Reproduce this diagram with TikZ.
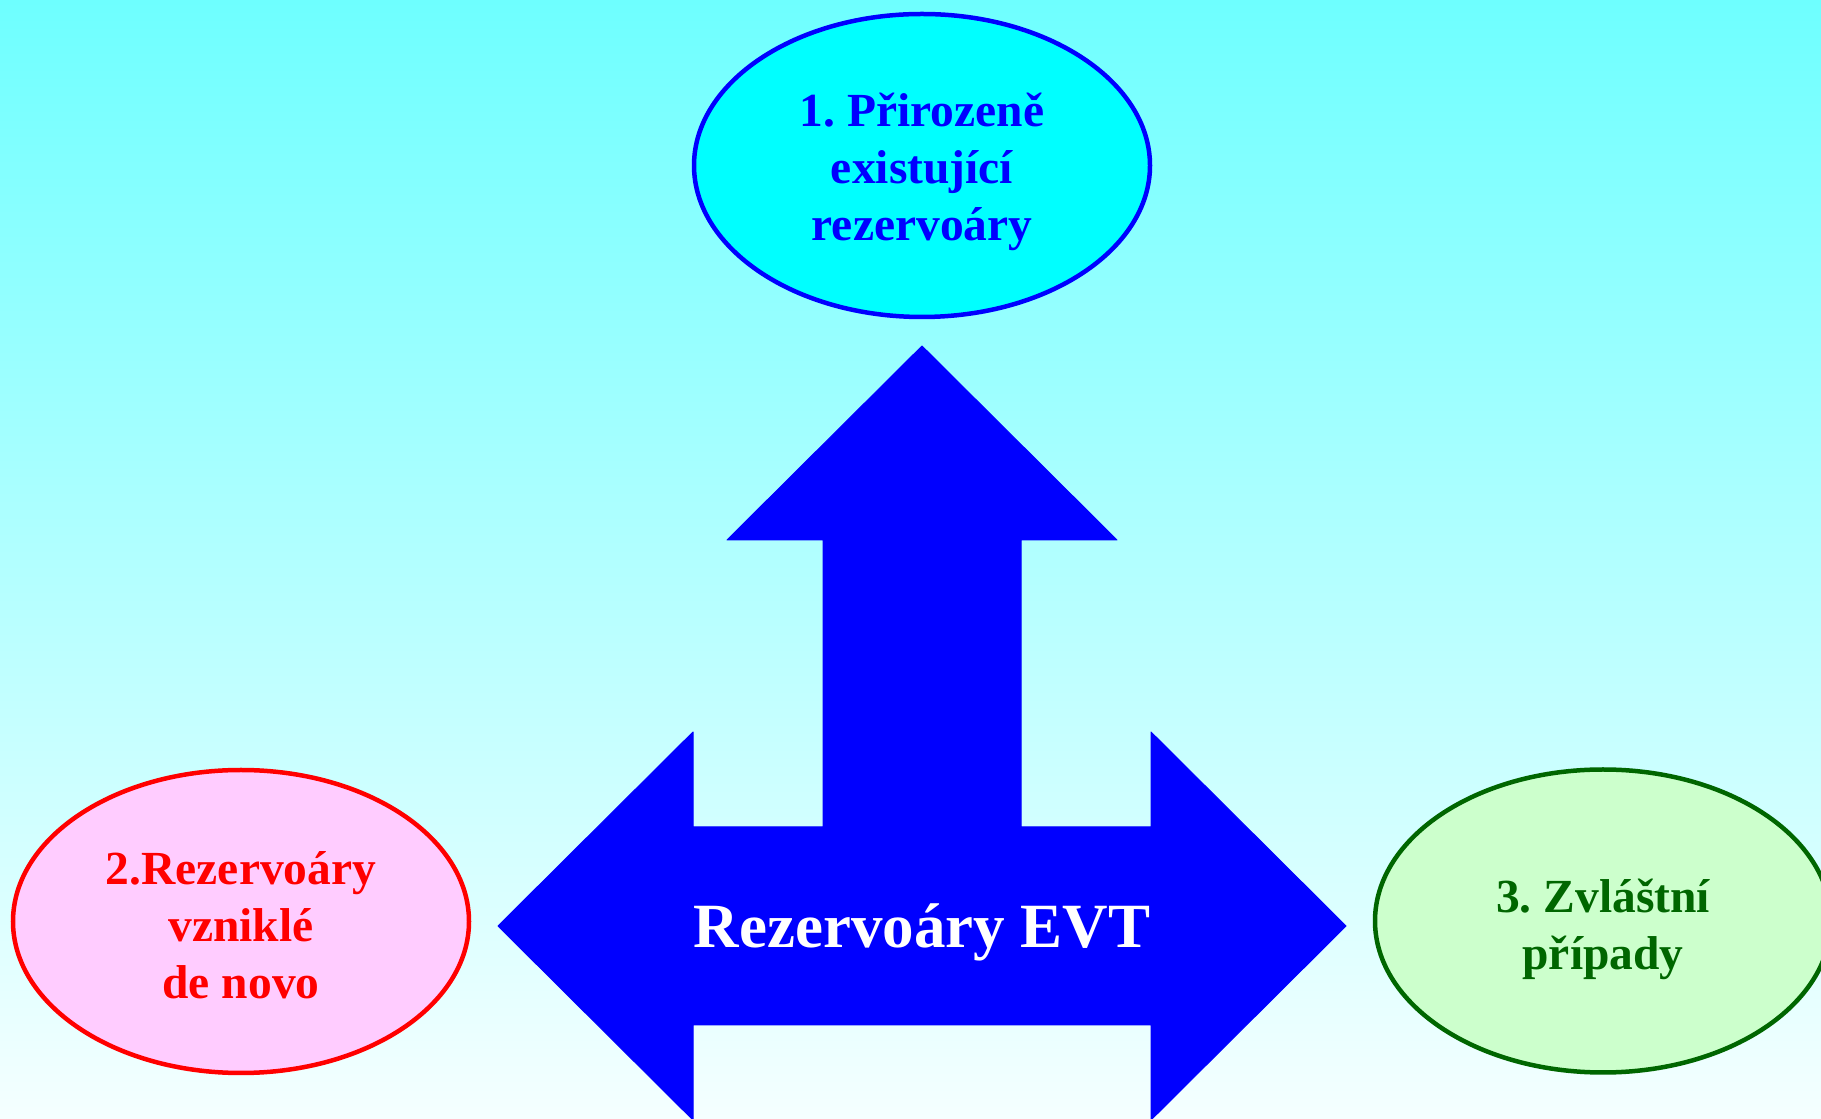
\documentclass[tikz,border=0pt]{standalone}
\usepackage{fontspec}
\setmainfont{Liberation Serif}
\usetikzlibrary{shapes.geometric}
\definecolor{bgtop}{RGB}{110,255,255}
\definecolor{bgbot}{RGB}{245,255,255}
\definecolor{arrowblue}{RGB}{0,0,255}
\definecolor{cyanfill}{RGB}{0,255,255}
\definecolor{pinkfill}{RGB}{255,204,255}
\definecolor{greenfill}{RGB}{204,255,204}
\definecolor{darkgreen}{RGB}{0,102,0}
\tikzset{
  oval/.style={ellipse, draw, line width=4.5pt, minimum width=456pt, minimum height=303pt, inner sep=0pt},
  ovaltext/.style={align=center, inner sep=0pt, font=\bfseries\frenchspacing\fontsize{47.5}{57}\selectfont},
}
\begin{document}
\begin{tikzpicture}[x=1pt,y=1pt]
\useasboundingbox (0,0) rectangle (1821,1119);
\shade[top color=bgtop, bottom color=bgbot] (0,0) rectangle (1821,1119);
% big three-way arrow
\fill[arrowblue, draw=arrowblue, line width=1pt, line join=round]
  (922,773) -- (1117,579) -- (1021,579) -- (1021,292) -- (1151,292) -- (1151,387)
  -- (1346,193) -- (1151,-1) -- (1151,94) -- (693,94) -- (693,-1) -- (498,193)
  -- (693,387) -- (693,292) -- (823,292) -- (823,579) -- (727,579) -- cycle;
\node[anchor=base, text=white, font=\bfseries\fontsize{63}{70}\selectfont] (evt) at (922,171) {Rezervoáry EVT};
% ellipses
\node[oval, draw=arrowblue, fill=cyanfill] (top) at (922,953.5) {};
\node[oval, draw=red, fill=pinkfill] (left) at (241,197.5) {};
\node[oval, draw=darkgreen, fill=greenfill] (right) at (1603,198) {};
\node[ovaltext, text=arrowblue] (toptext) at (922,947.5) {1. Přirozeně\\existující\\rezervoáry};
\node[ovaltext, text=red] (lefttext) at (241,193.5) {2.Rezervoáry\\vzniklé\\de novo};
\node[ovaltext, text=darkgreen] (righttext) at (1603,190) {3. Zvláštní\\případy};
\end{tikzpicture}
\end{document}
